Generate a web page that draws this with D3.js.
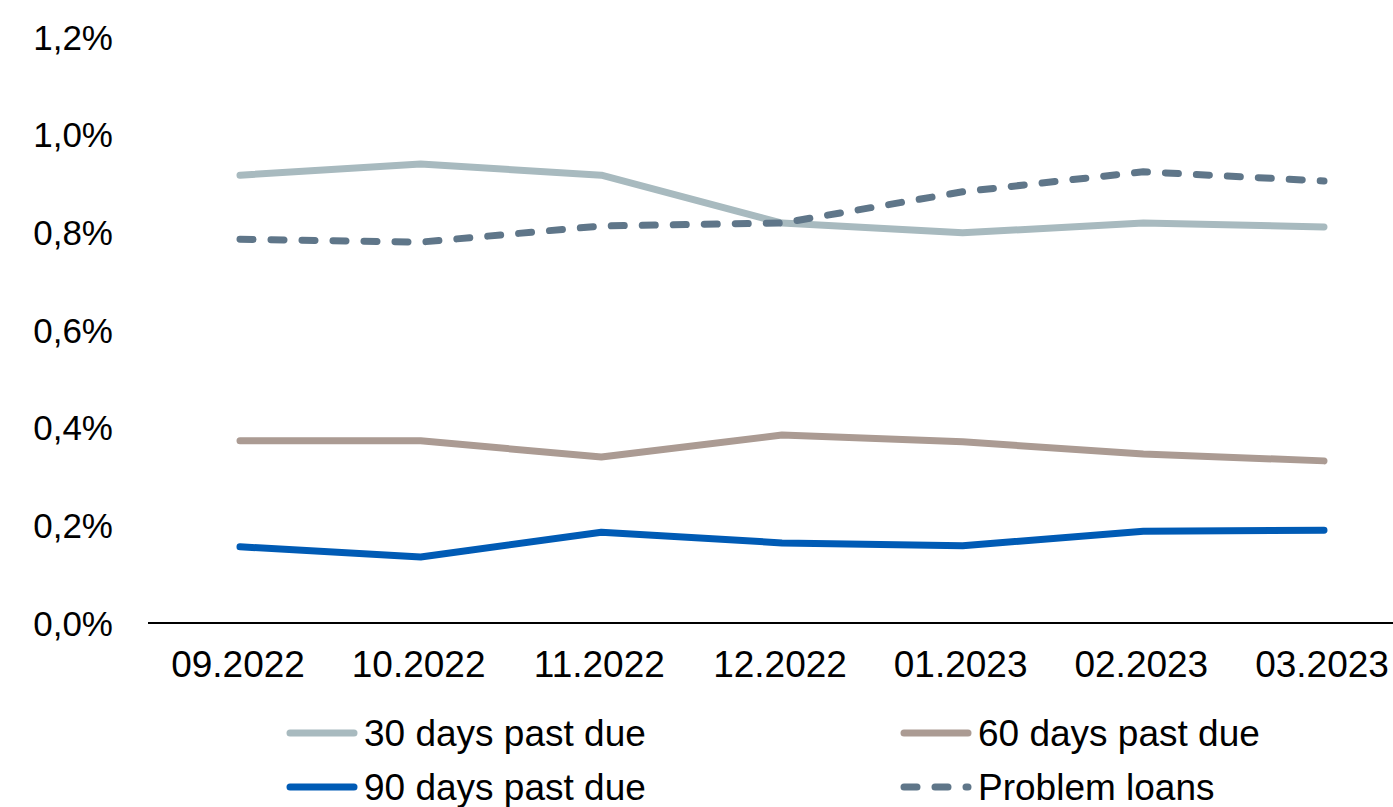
<!DOCTYPE html>
<html>
<head>
<meta charset="utf-8">
<script src="https://cdn.jsdelivr.net/npm/d3@7"></script>
<style>
  html, body { margin: 0; padding: 0; background: #fff; }
  svg { display: block; font-family: "Liberation Sans", Arial, sans-serif; }
</style>
</head>
<body>
<svg id="chart" width="1393" height="807"></svg>
<script>
const categories = ["09.2022", "10.2022", "11.2022", "12.2022", "01.2023", "02.2023", "03.2023"];
const yTicks = [0, 0.2, 0.4, 0.6, 0.8, 1.0, 1.2];
const days30 = [0.917, 0.940, 0.917, 0.819, 0.799, 0.819, 0.811];
const days60 = [0.373, 0.373, 0.340, 0.385, 0.371, 0.346, 0.332];
const days90 = [0.156, 0.135, 0.186, 0.164, 0.158, 0.188, 0.190];
const problemLoans = [0.786, 0.780, 0.813, 0.819, 0.883, 0.924, 0.905];
const seriesNames = ["30 days past due", "60 days past due", "90 days past due", "Problem loans"];

const series = [
  { name: seriesNames[0], values: days30, color: "#a8babf", dash: null },
  { name: seriesNames[1], values: days60, color: "#ab9b93", dash: null },
  { name: seriesNames[2], values: days90, color: "#005bb5", dash: null },
  { name: seriesNames[3], values: problemLoans, color: "#5f7689", dash: "13,18" }
];

const svg = d3.select("#chart");
const x = d3.scalePoint().domain(categories).range([240, 1324]);
const y = d3.scaleLinear().domain([0, 1.2]).range([623, 37]);
const fmt = v => v.toFixed(1).replace(".", ",") + "%";

// y labels
svg.append("g").selectAll("text").data(yTicks).join("text")
  .attr("x", 113).attr("y", d => y(d)).attr("dy", "0.36em")
  .attr("text-anchor", "end").attr("font-size", 35).attr("fill", "#000")
  .text(fmt);

// x axis line
svg.append("line").attr("x1", 148).attr("x2", 1393)
  .attr("y1", y(0)).attr("y2", y(0)).attr("stroke", "#000").attr("stroke-width", 2);

// x labels
svg.append("g").selectAll("text").data(categories).join("text")
  .attr("x", d => x(d) - 2).attr("y", 677)
  .attr("text-anchor", "middle").attr("font-size", 37).attr("fill", "#000")
  .text(d => d);

const line = d3.line().x((d, i) => x(categories[i])).y(d => y(d));

// draw order: 60, 90, 30, problem loans on top
[series[1], series[2], series[0], series[3]].forEach(s => {
  svg.append("path").datum(s.values)
    .attr("d", line).attr("fill", "none")
    .attr("stroke", s.color).attr("stroke-width", 7)
    .attr("stroke-linecap", "round").attr("stroke-linejoin", "round")
    .attr("stroke-dasharray", s.dash);
});

// legend
const legendPos = [
  { lx: 290, ly: 733 }, { lx: 904, ly: 733 },
  { lx: 290, ly: 787 }, { lx: 904, ly: 787 }
];
series.forEach((s, i) => {
  const p = legendPos[i];
  const g = svg.append("g");
  g.append("line").attr("x1", p.lx).attr("x2", p.lx + 64)
    .attr("y1", p.ly).attr("y2", p.ly)
    .attr("stroke", s.color).attr("stroke-width", 7)
    .attr("stroke-linecap", "round")
    .attr("stroke-dasharray", s.dash);
  g.append("text").attr("x", p.lx + 74).attr("y", p.ly).attr("dy", "0.36em")
    .attr("font-size", 37).attr("fill", "#000").text(s.name);
});
</script>
</body>
</html>
